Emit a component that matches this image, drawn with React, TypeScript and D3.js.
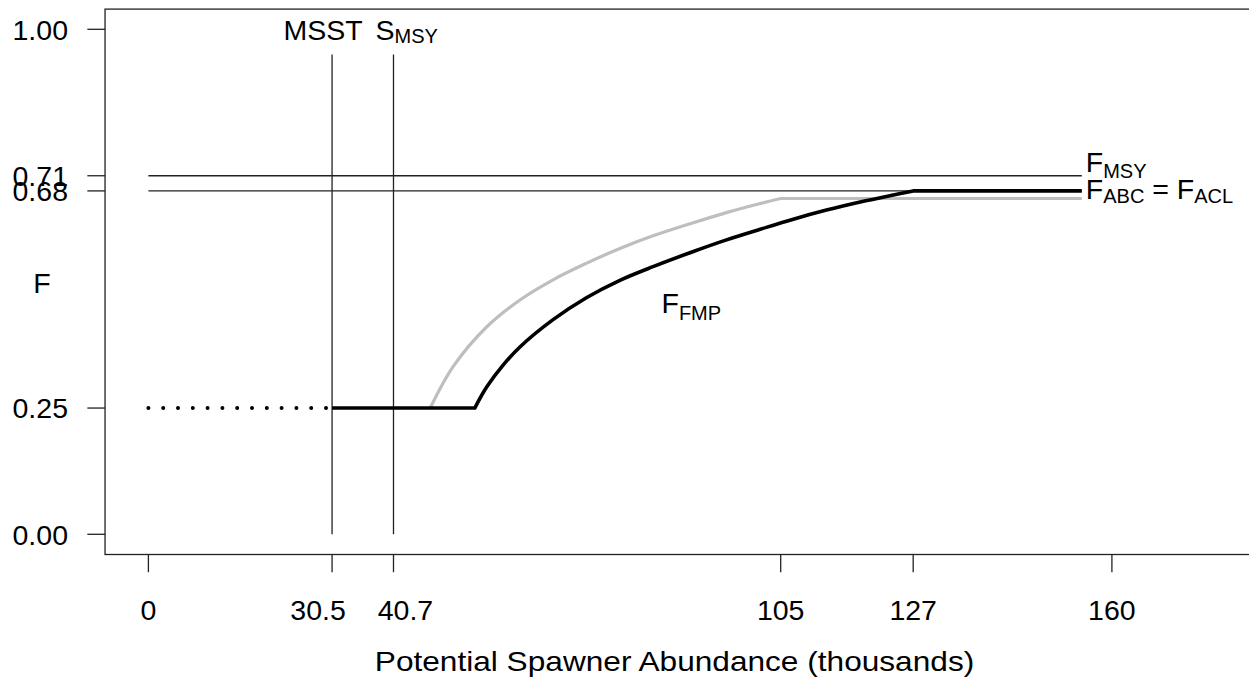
import React from "react";
import * as d3 from "d3";

const W = 1249;
const H = 681;

// tick values
const xTicks = [0, 30.5, 40.7, 105, 127, 160];
const xTickLabels = ["0", "30.5", "40.7", "105", "127", "160"];
const xTickLabelShift = [0, -14, 12, 0, 0, 0];
const yTicks = [0, 0.25, 0.68, 0.71, 1];
const yTickLabels = ["0.00", "0.25", "0.68", "0.71", "1.00"];

// reference lines
const vLines = [30.5, 40.7];
const vLineTop = 0.95;
const hLines = [0.71, 0.68];
const hLineEnd = 155;

// dotted segment (below MSST)
const dotX = [0, 30.5];
const dotY = 0.25;

// F_FMP control rule (black): flat part, curved rise, plateau
const fmpFlatX = [30.5, 54.2];
const fmpFlatY = [0.25, 0.25];
const fmpCurveX = [54.2, 56.2, 58.9, 61.7, 67.2, 72.8, 78.3, 83.8, 90.5, 96.0, 101.6, 107.1, 112.6, 118.2, 123.7, 127];
const fmpCurveY = [0.25, 0.292, 0.335, 0.371, 0.425, 0.469, 0.503, 0.53, 0.56, 0.583, 0.604, 0.624, 0.642, 0.658, 0.672, 0.68];
const fmpPlateauX = [127, 155];
const fmpPlateauY = [0.68, 0.68];

// alternative rule (grey)
const altCurveX = [46.8, 50.6, 56.2, 61.7, 67.2, 72.8, 78.3, 83.8, 90.5, 96.0, 101.6, 105];
const altCurveY = [0.25, 0.332, 0.411, 0.464, 0.504, 0.537, 0.566, 0.591, 0.617, 0.637, 0.655, 0.665];
const altPlateauX = [105, 155];
const altPlateauY = [0.665, 0.665];

const FONT = "'Liberation Sans', Arial, Helvetica, sans-serif";
const FS = 28.5;
const SUB = 20;

type P = [number, number];
const zip = (a: number[], b: number[]): P[] => a.map((v, i) => [v, b[i]]);

export default function App() {
  const x = d3.scaleLinear().domain([0, 160]).range([148.4, 1111.9]);
  const y = d3.scaleLinear().domain([0, 1]).range([534.3, 29.3]);

  const boxL = x(-7.2);
  const boxR = x(187.2);
  const boxT = y(1.04);
  const boxB = y(-0.04);

  const straight = d3
    .line<P>()
    .x((d) => x(d[0]))
    .y((d) => y(d[1]));
  const smooth = d3
    .line<P>()
    .x((d) => x(d[0]))
    .y((d) => y(d[1]))
    .curve(d3.curveCatmullRom.alpha(0.5));

  const fmpPath =
    (straight(zip(fmpFlatX, fmpFlatY)) || "") +
    (smooth(zip(fmpCurveX, fmpCurveY)) || "").replace(/^M/, "L") +
    (straight(zip(fmpPlateauX, fmpPlateauY)) || "").replace(/^M/, "L");
  const altPath =
    (smooth(zip(altCurveX, altCurveY)) || "") +
    (straight(zip(altPlateauX, altPlateauY)) || "").replace(/^M/, "L");

  const thin = "#222";

  return (
    <svg
      width={W}
      height={H}
      style={{ position: "absolute", left: 0, top: 0, background: "#fff" }}
      fontFamily={FONT}
    >
      <rect x={0} y={0} width={W} height={H} fill="#fff" />
      {/* box */}
      <rect
        x={boxL}
        y={boxT}
        width={boxR - boxL}
        height={boxB - boxT}
        fill="none"
        stroke={thin}
        strokeWidth={1.3}
      />
      {/* y axis */}
      {yTicks.map((t, i) => (
        <g key={"yt" + i}>
          <line x1={boxL - 17.7} x2={boxL} y1={y(t)} y2={y(t)} stroke={thin} strokeWidth={1.3} />
          <text x={68} y={y(t) + 10.3} fontSize={FS} textAnchor="end" fill="#000">
            {yTickLabels[i]}
          </text>
        </g>
      ))}
      {/* x axis */}
      {xTicks.map((t, i) => (
        <g key={"xt" + i}>
          <line x1={x(t)} x2={x(t)} y1={boxB} y2={boxB + 17.7} stroke={thin} strokeWidth={1.3} />
          <text x={x(t) + xTickLabelShift[i]} y={620} fontSize={FS} textAnchor="middle" fill="#000">
            {xTickLabels[i]}
          </text>
        </g>
      ))}
      <g transform="translate(674.5,671) scale(1.11,1)">
        <text x={0} y={0} fontSize={FS} textAnchor="middle" fill="#000">
          Potential Spawner Abundance (thousands)
        </text>
      </g>
      <text x={42} y={292.5} fontSize={FS} textAnchor="middle" fill="#000">
        F
      </text>

      {/* reference lines */}
      {vLines.map((v, i) => (
        <line key={"v" + i} x1={x(v)} x2={x(v)} y1={y(0)} y2={y(vLineTop)} stroke={thin} strokeWidth={1.3} />
      ))}
      {hLines.map((h, i) => (
        <line key={"h" + i} x1={x(0)} x2={x(hLineEnd)} y1={y(h)} y2={y(h)} stroke={thin} strokeWidth={1.3} />
      ))}

      {/* grey rule */}
      <path d={altPath} fill="none" stroke="#bebebe" strokeWidth={3.2} strokeLinejoin="round" />
      {/* black rule */}
      <path d={fmpPath} fill="none" stroke="#000" strokeWidth={3.6} strokeLinejoin="round" />
      {/* dotted */}
      <line
        x1={x(dotX[0])}
        x2={x(dotX[1])}
        y1={y(dotY)}
        y2={y(dotY)}
        stroke="#000"
        strokeWidth={4}
        strokeLinecap="round"
        strokeDasharray="0 14.8"
      />

      {/* labels */}
      <text x={x(30.5) - 9} y={40} fontSize={FS} textAnchor="middle" fill="#000">
        MSST
      </text>
      <text x={x(40.7) - 18} y={40} fontSize={FS} fill="#000">
        S<tspan fontSize={SUB} dy={2.8}>MSY</tspan>
      </text>
      <text x={x(hLineEnd) + 4} y={y(0.71) - 4} fontSize={FS} fill="#000">
        F<tspan fontSize={SUB} dy={6.7}>MSY</tspan>
      </text>
      <text x={x(hLineEnd) + 4} y={y(0.68) + 8.4} fontSize={FS} fill="#000">
        F<tspan fontSize={SUB} dy={4}>ABC</tspan>
        <tspan fontSize={FS} dy={-4}>{" = F"}</tspan>
        <tspan fontSize={SUB} dy={4}>ACL</tspan>
      </text>
      <text x={x(85.2)} y={y(0.4376)} fontSize={FS} fill="#000">
        F<tspan fontSize={SUB} dy={6.7}>FMP</tspan>
      </text>
    </svg>
  );
}
